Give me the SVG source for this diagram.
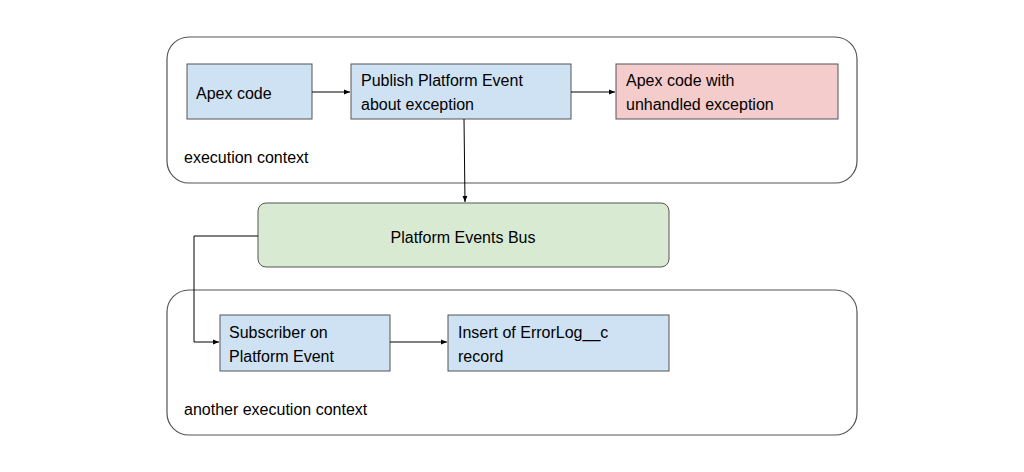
<svg xmlns="http://www.w3.org/2000/svg" width="1024" height="472" viewBox="0 0 1024 472">
<defs>
<style>
text{font-family:"Liberation Sans",Arial,sans-serif;font-size:16px;fill:#000}
.ctx{fill:#fff;stroke:#555;stroke-width:1.2}
.blue{fill:#cfe2f3;stroke:#555;stroke-width:1}
.red{fill:#f4cccc;stroke:#555;stroke-width:1}
.green{fill:#d9ead3;stroke:#555;stroke-width:1}
.c{fill:none;stroke:#000;stroke-width:1}
</style>
<marker id="ah" viewBox="0 0 10 10" refX="10" refY="5" markerWidth="6" markerHeight="6" orient="auto"><path d="M0,1 L10,5 L0,9 z" fill="#000"/></marker>
</defs>
<rect width="1024" height="472" fill="#fff"/>
<g id="ctx1"><rect class="ctx" x="167" y="37" width="690" height="146" rx="22"/><text x="184" y="163">execution context</text></g>
<g id="ctx2"><rect class="ctx" x="167" y="290" width="690" height="145" rx="22"/><text x="184" y="415">another execution context</text></g>
<g id="apex"><rect class="blue" x="187" y="64" width="125" height="55"/><text x="196" y="99">Apex code</text></g>
<g id="publish"><rect class="blue" x="351" y="64" width="220" height="55"/><text x="361" y="86">Publish Platform Event</text><text x="361" y="110">about exception</text></g>
<g id="unhandled"><rect class="red" x="616" y="64" width="222" height="55"/><text x="626" y="86">Apex code with</text><text x="626" y="110">unhandled exception</text></g>
<g id="bus"><rect class="green" x="258" y="203" width="411" height="64" rx="8"/><text x="463" y="243" text-anchor="middle">Platform Events Bus</text></g>
<g id="subscriber"><rect class="blue" x="220" y="315" width="170" height="56"/><text x="229" y="338">Subscriber on</text><text x="229" y="362">Platform Event</text></g>
<g id="insert"><rect class="blue" x="448" y="315" width="221" height="56"/><text x="458" y="338">Insert of ErrorLog__c</text><text x="458" y="362">record</text></g>
<g id="connectors">
<path class="c" d="M312,92 H350" marker-end="url(#ah)"/>
<path class="c" d="M571,92 H615" marker-end="url(#ah)"/>
<path class="c" d="M464,119 L465,202" marker-end="url(#ah)"/>
<path class="c" d="M258,236 H194 V342 H219" marker-end="url(#ah)"/>
<path class="c" d="M390,342 H447" marker-end="url(#ah)"/>
</g>
</svg>
